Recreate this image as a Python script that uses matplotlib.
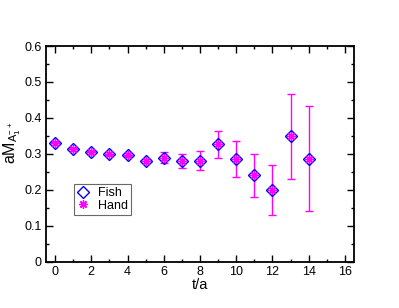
import numpy as np
import matplotlib
matplotlib.use('Agg')
import matplotlib.pyplot as plt

plt.rcParams['font.family'] = ['Liberation Sans', 'DejaVu Sans']
plt.rcParams['mathtext.default'] = 'regular'

t = np.arange(0, 15)
fish = [0.329, 0.313, 0.304, 0.300, 0.298, 0.281, 0.289, 0.281, 0.281,
        0.327, 0.285, 0.240, 0.199, 0.349, 0.287]
hand = [0.329, 0.313, 0.304, 0.300, 0.298, 0.281, 0.289, 0.281, 0.281,
        0.327, 0.285, 0.240, 0.199, 0.349, 0.287]
hand_err = [0.004, 0.004, 0.004, 0.004, 0.005, 0.006, 0.015, 0.020, 0.027,
            0.038, 0.050, 0.060, 0.070, 0.118, 0.145]

fig = plt.figure(figsize=(3.99, 3.08), dpi=100)
ax = fig.add_axes([0.1153, 0.150, 0.887 - 0.1153, 0.8506 - 0.150])

ax.errorbar(t, hand, yerr=hand_err, fmt='none', ecolor='#ff00ff',
            elinewidth=1.0, capsize=3, capthick=1.0, zorder=2)
ax.plot(t, fish, linestyle='none', marker='D', markersize=6,
        markerfacecolor='none', markeredgecolor='#0000ff', markeredgewidth=1.0,
        label='Fish', zorder=3)
ax.plot(t, hand, linestyle='none', marker=(8, 2, 0), markersize=6,
        color='#ff00ff', markeredgewidth=1.0, label='Hand', zorder=4)

ax.set_xlim(-0.5, 16.5)
ax.set_ylim(0, 0.6)
ax.set_xticks(np.arange(0, 17, 2))
ax.set_xticks(np.arange(0, 17, 1), minor=True)
ax.set_yticks(np.arange(0, 0.61, 0.1))
ax.set_yticks(np.arange(0, 0.61, 0.05), minor=True)
ax.set_yticklabels(['0', '0.1', '0.2', '0.3', '0.4', '0.5', '0.6'])
ax.tick_params(which='both', direction='in', top=True, right=True,
               labelsize=9, width=1.0, pad=3)
ax.tick_params(which='major', length=5)
ax.tick_params(which='minor', length=2.5)
for s in ax.spines.values():
    s.set_linewidth(1.3)

ax.set_xlabel('t/a', fontsize=10.5, labelpad=0)
ax.set_ylabel(r'$aM_{A_1^{-+}}$', fontsize=11.5, labelpad=1)
ax.yaxis.set_label_coords(-0.076, 0.55)

leg = ax.legend(loc='upper left', bbox_to_anchor=(0.09, 0.36), fontsize=9,
                frameon=True, fancybox=False, edgecolor='#444444',
                handlelength=1.0, handletextpad=0.7, borderpad=0.25,
                labelspacing=0.05, borderaxespad=0)
leg.get_frame().set_linewidth(0.8)

plt.savefig('out.png', dpi=100)
